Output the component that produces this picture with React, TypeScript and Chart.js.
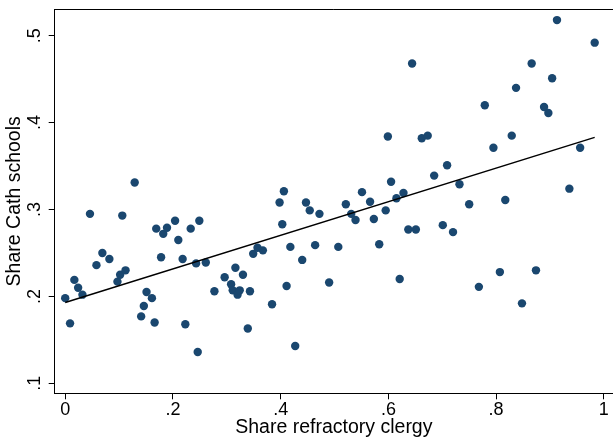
import React, { useEffect, useRef } from "react";
import { Chart, registerables } from "chart.js";

Chart.register(...registerables);

const xValues = [
  0.0, 0.009, 0.017, 0.024, 0.032, 0.046, 0.058, 0.069, 0.082, 0.097,
  0.102, 0.106, 0.112, 0.129, 0.141, 0.146, 0.151, 0.161, 0.166, 0.169,
  0.178, 0.182, 0.189, 0.204, 0.21, 0.218, 0.223, 0.233, 0.243, 0.246,
  0.249, 0.261, 0.277, 0.296, 0.308, 0.311, 0.316, 0.32, 0.324, 0.33,
  0.339, 0.343, 0.349, 0.357, 0.367, 0.384, 0.398, 0.403, 0.406, 0.411,
  0.418, 0.427, 0.44, 0.447, 0.454, 0.464, 0.472, 0.49, 0.507, 0.521,
  0.531, 0.539, 0.551, 0.566, 0.573, 0.583, 0.595, 0.599, 0.605, 0.615,
  0.621, 0.628, 0.637, 0.644, 0.651, 0.662, 0.673, 0.685, 0.701, 0.709,
  0.72, 0.732, 0.75, 0.768, 0.779, 0.795, 0.807, 0.817, 0.829, 0.837,
  0.848, 0.866, 0.874, 0.889, 0.897, 0.904, 0.913, 0.936, 0.956, 0.983,
];
const yValues = [
  0.198, 0.169, 0.219, 0.21, 0.202, 0.295, 0.236, 0.25, 0.243, 0.217,
  0.225, 0.293, 0.23, 0.331, 0.177, 0.189, 0.205, 0.198, 0.17, 0.278,
  0.245, 0.272, 0.279, 0.287, 0.265, 0.243, 0.168, 0.278, 0.238, 0.136,
  0.287, 0.239, 0.206, 0.222, 0.214, 0.207, 0.233, 0.202, 0.207, 0.225,
  0.163, 0.206, 0.249, 0.256, 0.253, 0.191, 0.308, 0.283, 0.321, 0.212,
  0.257, 0.143, 0.242, 0.308, 0.299, 0.259, 0.295, 0.216, 0.257, 0.306,
  0.295, 0.288, 0.32, 0.309, 0.289, 0.26, 0.299, 0.384, 0.332, 0.313,
  0.22, 0.319, 0.277, 0.468, 0.277, 0.382, 0.385, 0.339, 0.282, 0.351,
  0.274, 0.329, 0.306, 0.211, 0.42, 0.371, 0.228, 0.311, 0.385, 0.44,
  0.192, 0.468, 0.23, 0.418, 0.411, 0.451, 0.518, 0.324, 0.371, 0.492,
];
const fitX = [0, 0.983];
const fitY = [0.193, 0.383];

const xTicks = [0, 0.2, 0.4, 0.6, 0.8, 1];
const xTickLabels = ["0", ".2", ".4", ".6", ".8", "1"];
const yTicks = [0.1, 0.2, 0.3, 0.4, 0.5];
const yTickLabels = [".1", ".2", ".3", ".4", ".5"];
const xTitle = "Share refractory clergy";
const yTitle = "Share Cath schools";

const FONT = "'Liberation Sans', Arial, Helvetica, sans-serif";
const NAVY = "#1a476f";

const framePlugin = {
  id: "stataFrame",
  beforeDraw(chart: any) {
    const ctx = chart.ctx;
    ctx.save();
    ctx.fillStyle = "#ffffff";
    ctx.fillRect(0, 0, chart.width, chart.height);
    ctx.restore();
  },
  afterDraw(chart: any) {
    const ctx = chart.ctx;
    const a = chart.chartArea;
    ctx.save();
    ctx.strokeStyle = "#000000";
    ctx.lineWidth = 1;
    ctx.beginPath();
    const ty = Math.round(a.top) + 0.5;
    ctx.moveTo(a.left, ty);
    ctx.lineTo(a.right, ty);
    ctx.stroke();
    ctx.fillStyle = "#000000";
    ctx.font = `18px ${FONT}`;
    ctx.textAlign = "center";
    ctx.textBaseline = "middle";
    const ys = chart.scales.y;
    yTicks.forEach((v, i) => {
      const py = ys.getPixelForValue(v);
      ctx.save();
      ctx.translate(35, py);
      ctx.rotate(-Math.PI / 2);
      ctx.fillText(yTickLabels[i], 0, 0);
      ctx.restore();
    });
    const xs = chart.scales.x;
    xTicks.forEach((v, i) => {
      const px = xs.getPixelForValue(v);
      ctx.fillText(xTickLabels[i], px, a.bottom + 17);
    });
    ctx.restore();
  },
};

export default function App() {
  const ref = useRef<HTMLCanvasElement | null>(null);
  useEffect(() => {
    if (!ref.current) return;
    const chart = new Chart(ref.current, {
      type: "scatter",
      data: {
        datasets: [
          {
            type: "line",
            label: "fit",
            data: fitX.map((x, i) => ({ x, y: fitY[i] })),
            borderColor: "#000000",
            borderWidth: 1.5,
            pointRadius: 0,
            fill: false,
          } as any,
          {
            label: "points",
            data: xValues.map((x, i) => ({ x, y: yValues[i] })),
            backgroundColor: NAVY,
            borderColor: NAVY,
            borderWidth: 0,
            pointRadius: 4.2,
          },
        ],
      },
      options: {
        responsive: false,
        animation: false,
        events: [],
        layout: { autoPadding: false, padding: { top: 9.3, left: 0, right: 0, bottom: 0 } },
        plugins: {
          legend: { display: false },
          tooltip: { enabled: false },
          title: { display: false },
        },
        scales: {
          x: {
            type: "linear",
            min: -0.0195,
            max: 1.017,
            afterBuildTicks: (s: any) => {
              s.ticks = xTicks.map((v) => ({ value: v }));
            },
            afterFit: (s: any) => {
              s.height = 47.7;
              s.paddingLeft = 0;
              s.paddingRight = 0;
            },
            grid: {
              drawOnChartArea: false,
              drawTicks: true,
              tickLength: 6,
              color: "#000000",
              lineWidth: 1,
            },
            border: { display: true, color: "#000000", width: 1 },
            ticks: { display: false },
            title: {
              display: true,
              text: xTitle,
              color: "#000000",
              font: { family: FONT, size: 19.5, lineHeight: 1 },
              padding: { top: 0, bottom: 3.75 },
            },
          },
          y: {
            type: "linear",
            min: 0.0885,
            max: 0.5304,
            afterBuildTicks: (s: any) => {
              s.ticks = yTicks.map((v) => ({ value: v }));
            },
            afterFit: (s: any) => {
              s.width = 54.7;
              s.paddingTop = 0;
              s.paddingBottom = 0;
            },
            grid: {
              drawOnChartArea: false,
              drawTicks: true,
              tickLength: 6,
              color: "#000000",
              lineWidth: 1,
            },
            border: { display: true, color: "#000000", width: 1 },
            ticks: { display: false },
            title: {
              display: true,
              text: yTitle,
              color: "#000000",
              font: { family: FONT, size: 19.5, lineHeight: 1 },
              padding: { top: 4.65, bottom: 0 },
            },
          },
        },
      },
      plugins: [framePlugin],
    });
    return () => chart.destroy();
  }, []);
  return (
    <div style={{ position: "absolute", left: 0, top: 0, width: 613, height: 441 }}>
      <canvas ref={ref} width={613} height={441} style={{ display: "block" }} />
    </div>
  );
}
